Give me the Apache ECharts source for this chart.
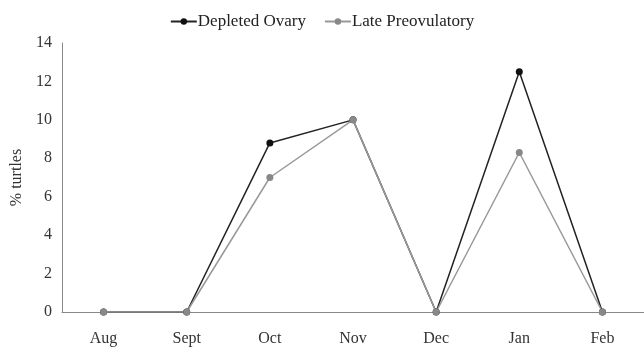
<!DOCTYPE html>
<html>
<head>
<meta charset="utf-8">
<script src="https://cdn.jsdelivr.net/npm/echarts@6/dist/echarts.min.js"></script>
<style>
  html, body { margin: 0; padding: 0; background: #fff; }
  #chart { width: 644px; height: 347px; }
</style>
</head>
<body>
<div id="chart"></div>
<script>
// months on the x axis
const months = ['Aug', 'Sept', 'Oct', 'Nov', 'Dec', 'Jan', 'Feb'];
// % turtles per month
const depletedOvary = [0, 0, 8.8, 10, 0, 12.5, 0];
const latePreovulatory = [0, 0, 7, 10, 0, 8.3, 0];
const yTicks = [0, 2, 4, 6, 8, 10, 12, 14];

const font = 'Liberation Serif, Times New Roman, serif';

const chart = echarts.init(document.getElementById('chart'));
chart.setOption({
  animation: false,
  textStyle: { fontFamily: font },
  legend: {
    top: 8,
    left: 'center',
    itemWidth: 26,
    itemHeight: 8,
    itemGap: 18,
    textStyle: { fontFamily: font, fontSize: 17, color: '#222', padding: [0, 0, 0, -4] }
  },
  grid: { left: 62, right: -2, top: 43, bottom: 35 },
  xAxis: {
    type: 'category',
    data: months,
    boundaryGap: true,
    axisLine: { lineStyle: { color: '#888', width: 1 } },
    axisTick: { show: false },
    axisLabel: { margin: 19, fontSize: 16, color: '#333', fontFamily: font }
  },
  yAxis: {
    type: 'value',
    min: yTicks[0],
    max: yTicks[yTicks.length - 1],
    interval: 2,
    name: '% turtles',
    nameLocation: 'middle',
    nameGap: 35,
    nameTextStyle: { fontSize: 16, color: '#333', fontFamily: font },
    axisLine: { show: true, lineStyle: { color: '#888', width: 1 } },
    axisTick: { show: false },
    splitLine: { show: false },
    axisLabel: { margin: 10, fontSize: 16, color: '#333', fontFamily: font }
  },
  series: [
    {
      name: 'Depleted Ovary',
      type: 'line',
      data: depletedOvary,
      symbol: 'circle',
      symbolSize: 7,
      color: '#111',
      lineStyle: { color: '#222', width: 1.5 },
      itemStyle: { color: '#111' }
    },
    {
      name: 'Late Preovulatory',
      type: 'line',
      data: latePreovulatory,
      symbol: 'circle',
      symbolSize: 7,
      color: '#888',
      lineStyle: { color: '#999', width: 1.5 },
      itemStyle: { color: '#888' }
    }
  ]
});
</script>
</body>
</html>
